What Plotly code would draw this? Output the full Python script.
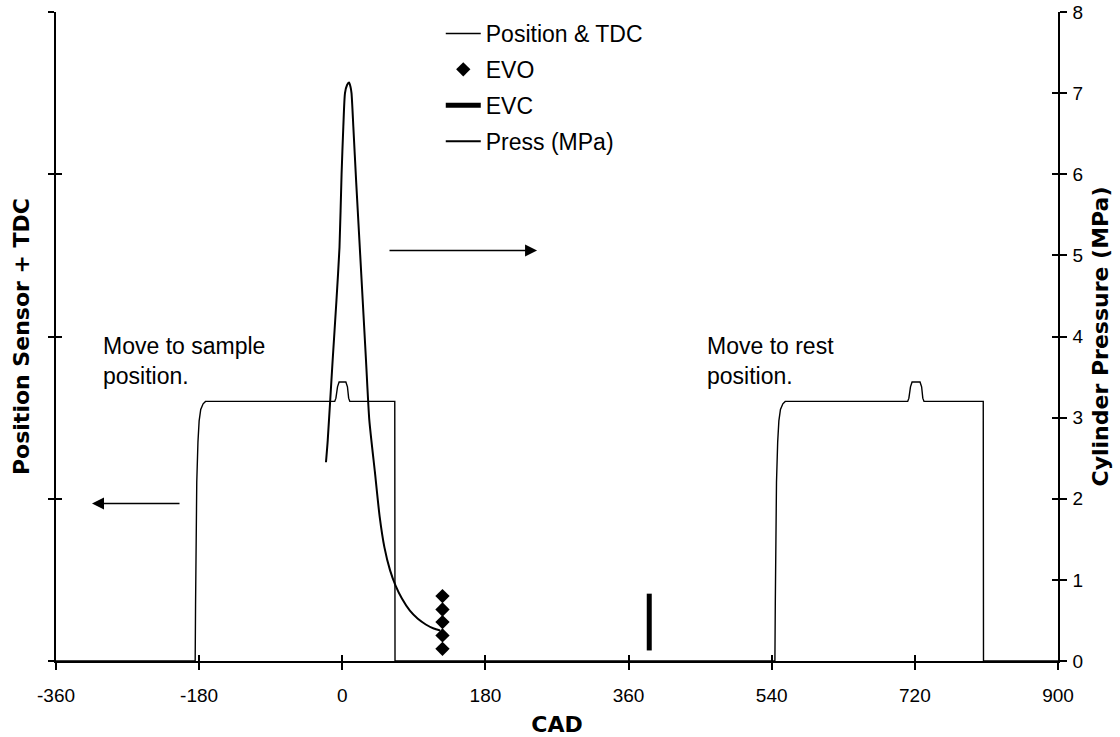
import plotly.graph_objects as go

# ---- data ----
cad_ticks = [-360, -180, 0, 180, 360, 540, 720, 900]
cad_labels = ["-360", "-180", "0", "180", "360", "540", "720", "900"]
press_ticks = [0, 1, 2, 3, 4, 5, 6, 7, 8]

pos_cad = [-360, -185, -184.5, -184, -183, -181.5, -180, -178, -175, -172,
           -9.5, -8, -6, -4, 4.5, 6.5, 8, 9.5, 66, 66.3,
           544, 544.5, 545, 546, 547.5, 549, 551, 554, 557,
           711, 712.5, 714.5, 716.5, 726.5, 728.5, 730, 731.5, 806, 806.3, 900]
pos_val = [0, 0, 0.35, 0.75, 1.1, 1.35, 1.48, 1.55, 1.585, 1.6,
           1.6, 1.62, 1.69, 1.72, 1.72, 1.69, 1.62, 1.6, 1.6, 0,
           0, 0.35, 0.75, 1.1, 1.35, 1.48, 1.55, 1.585, 1.6,
           1.6, 1.62, 1.69, 1.72, 1.72, 1.69, 1.62, 1.6, 1.6, 0, 0]

evo_cad = [126, 126, 126, 126, 126]
evo_p = [0.15, 0.315, 0.48, 0.635, 0.80]

evc_cad = [386, 386]
evc_p = [0.13, 0.83]

press_cad = [-20.5, -18.3, -12.1, -7.3, -3.5, -0.9, 1.3, 3.4, 6.0, 8.4, 10.3,
             11.6, 13.9, 17.5, 21.5, 29.8, 34, 41, 47, 53, 60, 67, 75, 85, 95,
             105, 115, 123]
press_val = [2.45, 2.72, 3.71, 4.45, 5.1, 6.0, 6.585, 7.0, 7.1, 7.13, 7.08,
             7.0, 6.585, 5.9, 5.19, 3.71, 2.97, 2.33, 1.78, 1.40, 1.12, 0.93,
             0.77, 0.62, 0.52, 0.45, 0.40, 0.376]

# ---- figure ----
fig = go.Figure()
fig.add_trace(go.Scatter(x=pos_cad, y=pos_val, mode="lines", name="Position & TDC",
                         legendgroup="a", line=dict(color="black", width=1.4), yaxis="y"))
fig.add_trace(go.Scatter(x=evo_cad, y=evo_p, mode="markers", name="EVO", legendgroup="b",
                         marker=dict(symbol="diamond", size=11, color="black"), yaxis="y2"))
fig.add_trace(go.Scatter(x=evc_cad, y=evc_p, mode="lines", name="EVC", legendgroup="c",
                         line=dict(color="black", width=5), yaxis="y2"))
fig.add_trace(go.Scatter(x=press_cad, y=press_val, mode="lines", name="Press (MPa)",
                         legendgroup="d", line=dict(color="black", width=2, shape="spline",
                                                    smoothing=0.6), yaxis="y2"))
# helper traces so the crossing-tick overlay axes are drawn
fig.add_trace(go.Scatter(x=[None], y=[None], xaxis="x2", yaxis="y", showlegend=False, hoverinfo="skip"))
fig.add_trace(go.Scatter(x=[None], y=[None], xaxis="x", yaxis="y3", showlegend=False, hoverinfo="skip"))
fig.add_trace(go.Scatter(x=[None], y=[None], xaxis="x", yaxis="y4", showlegend=False, hoverinfo="skip"))

tickfont = dict(family="Liberation Sans", size=19, color="black")
titlefont = dict(family="DejaVu Sans", size=22, color="black", weight="bold")

fig.update_layout(
    width=1120, height=737,
    margin=dict(l=56, r=62, t=12, b=76, autoexpand=False),
    paper_bgcolor="white", plot_bgcolor="white",
    showlegend=True,
    legend=dict(x=0.384, y=1.0, xanchor="left", yanchor="top",
                font=dict(family="Liberation Sans", size=23, color="black"),
                bgcolor="rgba(0,0,0,0)", itemwidth=35, tracegroupgap=3,
                traceorder="grouped"),
    xaxis=dict(range=[-360, 900], tickvals=cad_ticks, ticktext=cad_labels, ticks="outside",
               ticklen=7, tickcolor="black", tickwidth=1.5, showline=True, linecolor="black",
               linewidth=1.5, showgrid=False, zeroline=False, tickfont=tickfont,
               ticklabelstandoff=9, automargin=False,
               title=dict(text="CAD", font=titlefont, standoff=13), anchor="y"),
    xaxis2=dict(range=[-360, 900], tickvals=cad_ticks, ticks="inside", ticklen=6,
                tickcolor="black", tickwidth=1.5, showline=False, showgrid=False,
                zeroline=False, showticklabels=False, overlaying="x", anchor="y",
                side="bottom", automargin=False),
    yaxis=dict(range=[0, 4], dtick=1, ticks="outside", ticklen=6, tickcolor="black",
               tickwidth=1.5, showline=True, linecolor="black", linewidth=1.5,
               showgrid=False, zeroline=False, showticklabels=False, automargin=False,
               title=dict(text="Position Sensor + TDC", font=titlefont, standoff=13)),
    yaxis2=dict(range=[0, 8], tickvals=press_ticks, ticks="outside", ticklen=7,
                tickcolor="black", tickwidth=1.5, showline=True, linecolor="black",
                linewidth=1.5, showgrid=False, zeroline=False, tickfont=tickfont,
                side="right", overlaying="y", anchor="x", ticklabelstandoff=2,
                automargin=False,
                title=dict(text="Cylinder Pressure (MPa)", font=titlefont, standoff=10)),
    yaxis3=dict(range=[0, 4], dtick=1, ticks="inside", ticklen=6, tickcolor="black",
                tickwidth=1.5, showline=False, showgrid=False, zeroline=False,
                showticklabels=False, overlaying="y", anchor="x", side="left",
                automargin=False),
    yaxis4=dict(range=[0, 8], dtick=1, ticks="inside", ticklen=6, tickcolor="black",
                tickwidth=1.5, showline=False, showgrid=False, zeroline=False,
                showticklabels=False, overlaying="y", anchor="x", side="right",
                automargin=False),
)

annfont = dict(family="Liberation Sans", size=23, color="black")
fig.add_annotation(x=-304, y=3.695, xref="x", yref="y2", text="Move to sample<br>position.",
                   showarrow=False, xanchor="left", yanchor="middle", align="left", font=annfont)
fig.add_annotation(x=456, y=3.695, xref="x", yref="y2", text="Move to rest<br>position.",
                   showarrow=False, xanchor="left", yanchor="middle", align="left", font=annfont)
# arrows
fig.add_annotation(x=-314.7, y=1.94, ax=-202.8, ay=1.94, xref="x", yref="y2",
                   axref="x", ayref="y2", text="", showarrow=True, arrowhead=2,
                   arrowsize=1.6, arrowwidth=1.5, arrowcolor="black")
fig.add_annotation(x=244.9, y=5.06, ax=57.5, ay=5.06, xref="x", yref="y2",
                   axref="x", ayref="y2", text="", showarrow=True, arrowhead=2,
                   arrowsize=1.6, arrowwidth=1.5, arrowcolor="black")

fig.write_html("out.html", config={"displayModeBar": False},
               post_script="document.body.style.margin='0px';")
